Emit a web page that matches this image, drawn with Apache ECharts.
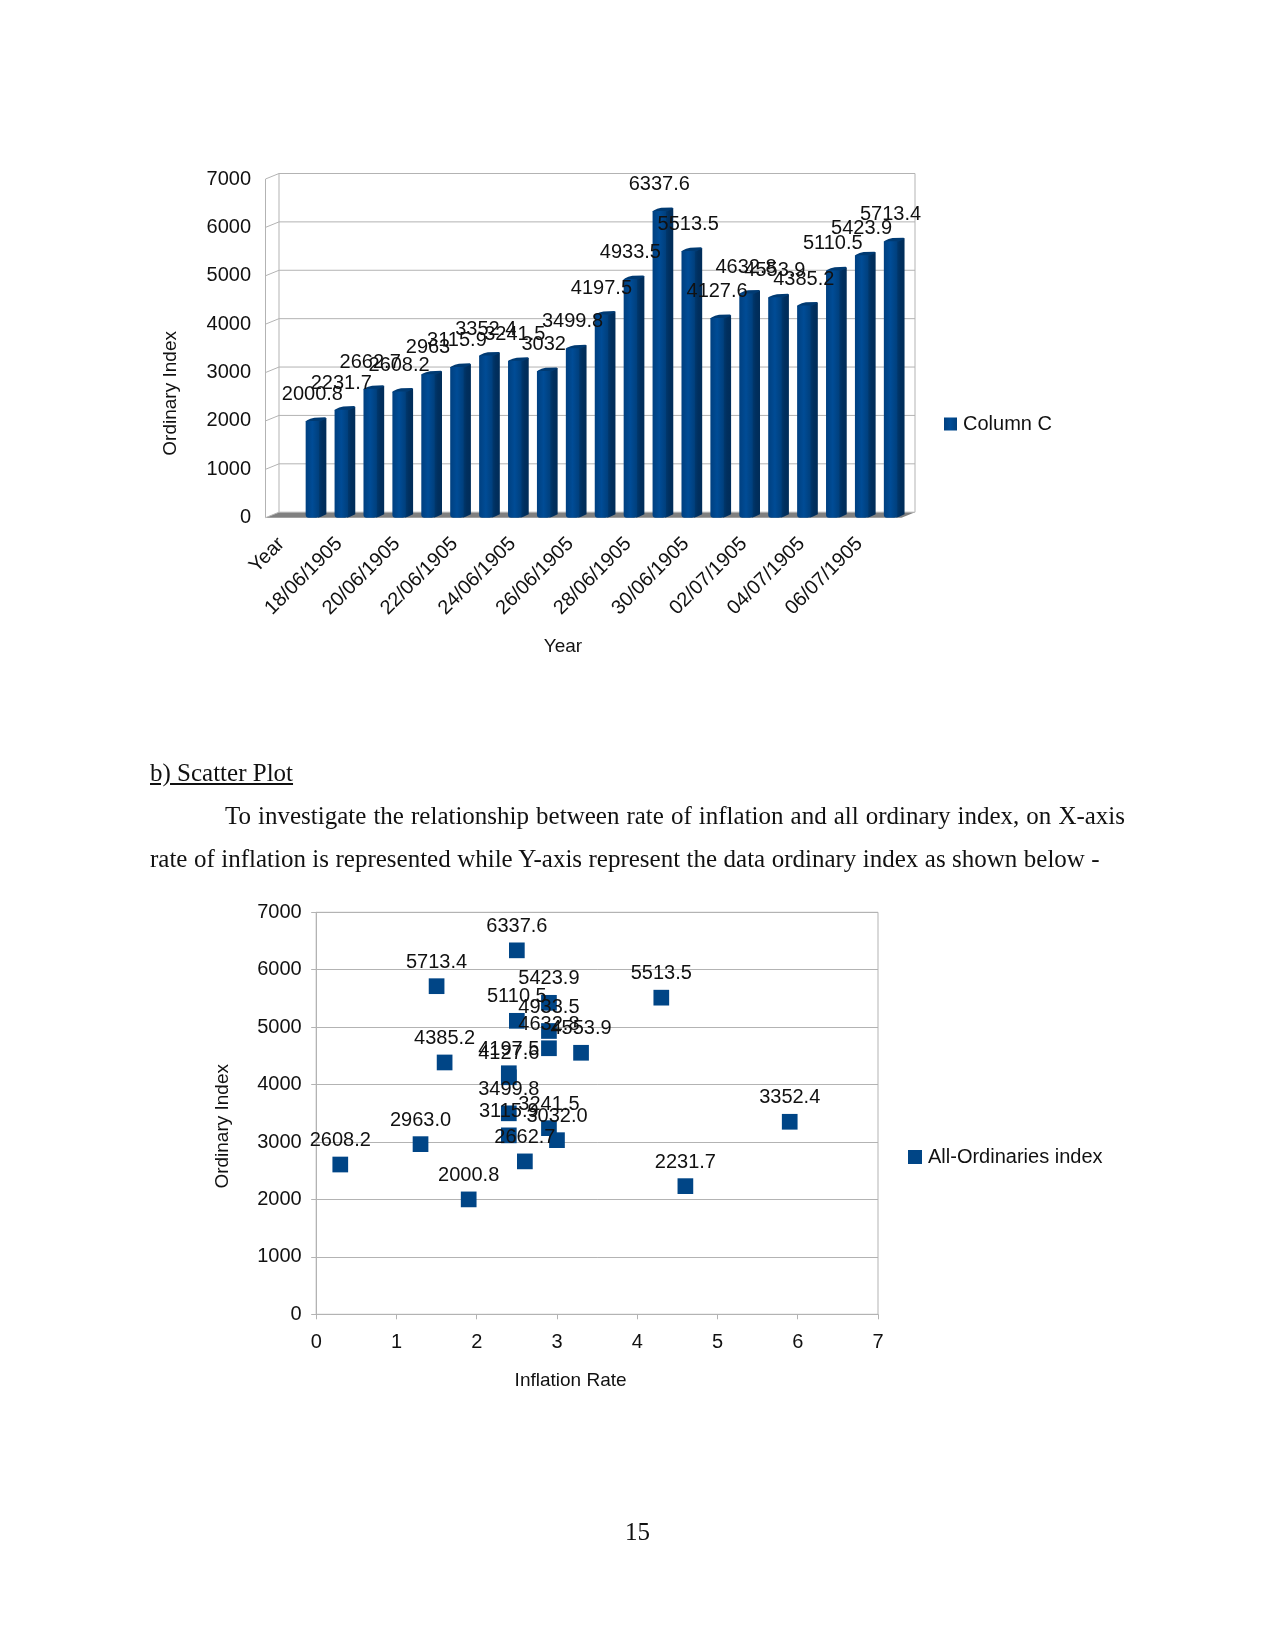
<!DOCTYPE html>
<html><head><meta charset="utf-8">
<script src="https://cdn.jsdelivr.net/npm/echarts@6/dist/echarts.min.js"></script>
<style>
html,body{margin:0;padding:0;background:#fff;width:1275px;height:1650px;overflow:hidden}
#c{position:absolute;left:0;top:0;width:1275px;height:1650px}
.t{position:absolute;font-family:"Liberation Serif",serif;font-size:25px;line-height:28px;color:#111;white-space:nowrap}
</style></head><body>
<div id="c"></div>
<div class="t" style="left:150px;top:759px;text-decoration:underline">b) Scatter Plot</div>
<div class="t" style="left:225px;top:802px;word-spacing:.8px">To investigate the relationship between rate of inflation and all ordinary index, on X-axis</div>
<div class="t" style="left:150px;top:845px;word-spacing:.2px">rate of inflation is represented while Y-axis represent the data ordinary index as shown below -</div>
<div class="t" style="left:625px;top:1518px">15</div>
<script>
const categories=['Year','17/06/1905','18/06/1905','19/06/1905','20/06/1905','21/06/1905','22/06/1905','23/06/1905','24/06/1905','25/06/1905','26/06/1905','27/06/1905','28/06/1905','29/06/1905','30/06/1905','01/07/1905','02/07/1905','03/07/1905','04/07/1905','05/07/1905','06/07/1905','07/07/1905'];
const ordinaryIndex=[null,2000.8,2231.7,2662.7,2608.2,2963,3115.9,3352.4,3241.5,3032,3499.8,4197.5,4933.5,6337.6,5513.5,4127.6,4632.8,4553.9,4385.2,5110.5,5423.9,5713.4];
const inflationRate=[null,1.9,4.6,2.6,0.3,1.3,2.4,5.9,2.9,3.0,2.4,2.4,2.9,2.5,4.3,2.4,2.9,3.3,1.6,2.5,2.9,1.5];
const yTicks=[0,1000,2000,3000,4000,5000,6000,7000];
const barSeriesName='Column C';
const scatterSeriesName='All-Ordinaries index';

const FONT='"Liberation Sans",Arial,sans-serif';
const GRID='#b3b3b3',BLUE='#004586',TXT='#111';
const DX=13.5,DY=5.5,HALF=6.7,SIDE=7.3;
const chart=echarts.init(document.getElementById('c'),null,{renderer:'canvas'});
const barRows=ordinaryIndex.map((v,i)=>[i,v]).filter(r=>r[1]!=null);
const scatterRows=ordinaryIndex.map((v,i)=>[inflationRate[i],v]).filter(r=>r[1]!=null);
const ln=(x1,y1,x2,y2)=>({type:'line',shape:{x1,y1,x2,y2},style:{stroke:GRID,lineWidth:1},silent:true});
const plain=v=>String(v);

chart.setOption({
 animation:false,
 legend:[
  {data:[{name:barSeriesName,icon:'rect'}],left:944,top:414,padding:0,itemWidth:13,itemHeight:13,itemGap:0,
   textStyle:{fontFamily:FONT,fontSize:20,color:TXT,padding:[0,0,0,1]},selectedMode:false},
  {data:[{name:scatterSeriesName,icon:'rect'}],left:908,top:1147,padding:0,itemWidth:14,itemHeight:14,itemGap:0,
   textStyle:{fontFamily:FONT,fontSize:20,color:TXT,padding:[0,0,0,1]},selectedMode:false}
 ],
 grid:[
  {left:269,top:179,width:636,height:338.7},
  {left:316.2,top:912.3,width:561.8,height:402,show:true,borderColor:GRID,borderWidth:1,backgroundColor:'transparent'}
 ],
 xAxis:[
  {gridIndex:0,type:'category',data:categories,
   axisLine:{show:false},axisTick:{show:false},
   axisLabel:{interval:1,rotate:45,margin:21,padding:[0,3,0,0],fontFamily:FONT,fontSize:20,color:TXT},
   name:'Year',nameLocation:'middle',nameGap:120,
   nameTextStyle:{fontFamily:FONT,fontSize:19,color:TXT,padding:[0,48,0,0]}},
  {gridIndex:1,type:'value',min:0,max:7,interval:1,
   splitLine:{show:false},
   axisLine:{lineStyle:{color:GRID}},axisTick:{length:5,lineStyle:{color:GRID}},
   axisLabel:{margin:18,fontFamily:FONT,fontSize:20,color:TXT},
   name:'Inflation Rate',nameLocation:'middle',nameGap:57,
   nameTextStyle:{fontFamily:FONT,fontSize:19,color:TXT,padding:[0,53,0,0]}}
 ],
 yAxis:[
  {gridIndex:0,type:'value',min:0,max:7000,interval:1000,
   axisLine:{show:false},axisTick:{show:false},splitLine:{show:false},
   axisLabel:{margin:18,formatter:plain,padding:[6,0,0,0],fontFamily:FONT,fontSize:20,color:TXT},
   name:'Ordinary Index',nameLocation:'middle',nameGap:89,nameRotate:90,
   nameTextStyle:{fontFamily:FONT,fontSize:19,color:TXT,padding:[0,90,0,0]}},
  {gridIndex:1,type:'value',min:0,max:7000,interval:1000,
   splitLine:{lineStyle:{color:GRID,width:1}},
   axisLine:{show:true,lineStyle:{color:GRID}},axisTick:{show:true,length:5,lineStyle:{color:GRID}},
   axisLabel:{margin:14.5,formatter:plain,padding:[6,0,0,0],fontFamily:FONT,fontSize:20,color:TXT},
   name:'Ordinary Index',nameLocation:'middle',nameGap:84,nameRotate:90,
   nameTextStyle:{fontFamily:FONT,fontSize:19,color:TXT,padding:[0,26,0,0]}}
 ],
 series:[
  {type:'custom',name:'walls',xAxisIndex:0,yAxisIndex:0,z:1,silent:true,clip:false,
   data:yTicks.map(v=>[0,v]),encode:{x:0,y:1},
   renderItem(params,api){
    const cs=params.coordSys,y=api.coord([0,api.value(1)])[1];
    const fl=cs.x-3.5,fr=cs.x+cs.width-3.5;
    const kids=[ln(fl,y,fl+DX,y-DY),ln(fl+DX,y-DY,fr+DX,y-DY)];
    if(api.value(1)===0){
     kids.unshift({type:'polygon',shape:{points:[[fl,y],[fl+DX,y-DY],[fr+DX,y-DY],[fr,y]]},style:{fill:'#808080'}});
     kids.push(ln(fl,y,fl,cs.y),ln(fl+DX,y-DY,fl+DX,cs.y-DY),ln(fr+DX,y-DY,fr+DX,cs.y-DY));
    }
    return {type:'group',children:kids};
   }},
  {type:'bar',name:barSeriesName,xAxisIndex:0,yAxisIndex:0,z:3,
   data:ordinaryIndex,barWidth:13.4,
   itemStyle:{borderRadius:[0,0,3,3],color:{type:'linear',x:0,y:0,x2:1,y2:0,colorStops:[{offset:0,color:'#004080'},{offset:.5,color:'#004c96'},{offset:1,color:'#003f7c'}]}},
   label:{show:true,position:'top',distance:16.5,fontFamily:FONT,fontSize:20,color:TXT},
   labelLayout:{hideOverlap:false}},
  {type:'custom',name:'barDepth',xAxisIndex:0,yAxisIndex:0,z:2,silent:true,clip:false,
   data:barRows,encode:{x:0,y:1},
   renderItem(params,api){
    const p=api.coord([api.value(0),api.value(1)]),b=api.coord([api.value(0),0]);
    const x=p[0],t=p[1],y0=b[1];
    return {type:'group',children:[
     {type:'polygon',shape:{points:[[x+HALF-1,t],[x+HALF+SIDE,t-3],[x+HALF+SIDE,y0-3.5],[x+HALF+2,y0-1],[x+HALF-1,y0]]},
      style:{fill:{type:'linear',x:0,y:0,x2:1,y2:0,colorStops:[{offset:0,color:'#003a72'},{offset:.5,color:'#002f5e'},{offset:1,color:'#002c58'}]}}},
     {type:'polygon',shape:{points:[[x-HALF,t+1],[x-HALF+1,t-.5],[x-2,t-2.2],[x+2,t-3.2],[x+HALF+SIDE-1,t-3.6],[x+HALF+SIDE,t-2.5],[x+HALF,t+1]]},
      style:{fill:'#003a72'}}
    ]};
   }},
  {type:'scatter',name:scatterSeriesName,xAxisIndex:1,yAxisIndex:1,z:3,
   data:scatterRows,symbol:'rect',symbolSize:15.7,
   itemStyle:{color:BLUE,opacity:1},
   label:{show:true,position:'top',distance:6,fontFamily:FONT,fontSize:20,color:TXT,
    formatter:p=>p.value[1].toFixed(1)},
   labelLayout:{hideOverlap:false}}
 ]
});
</script>
</body></html>
